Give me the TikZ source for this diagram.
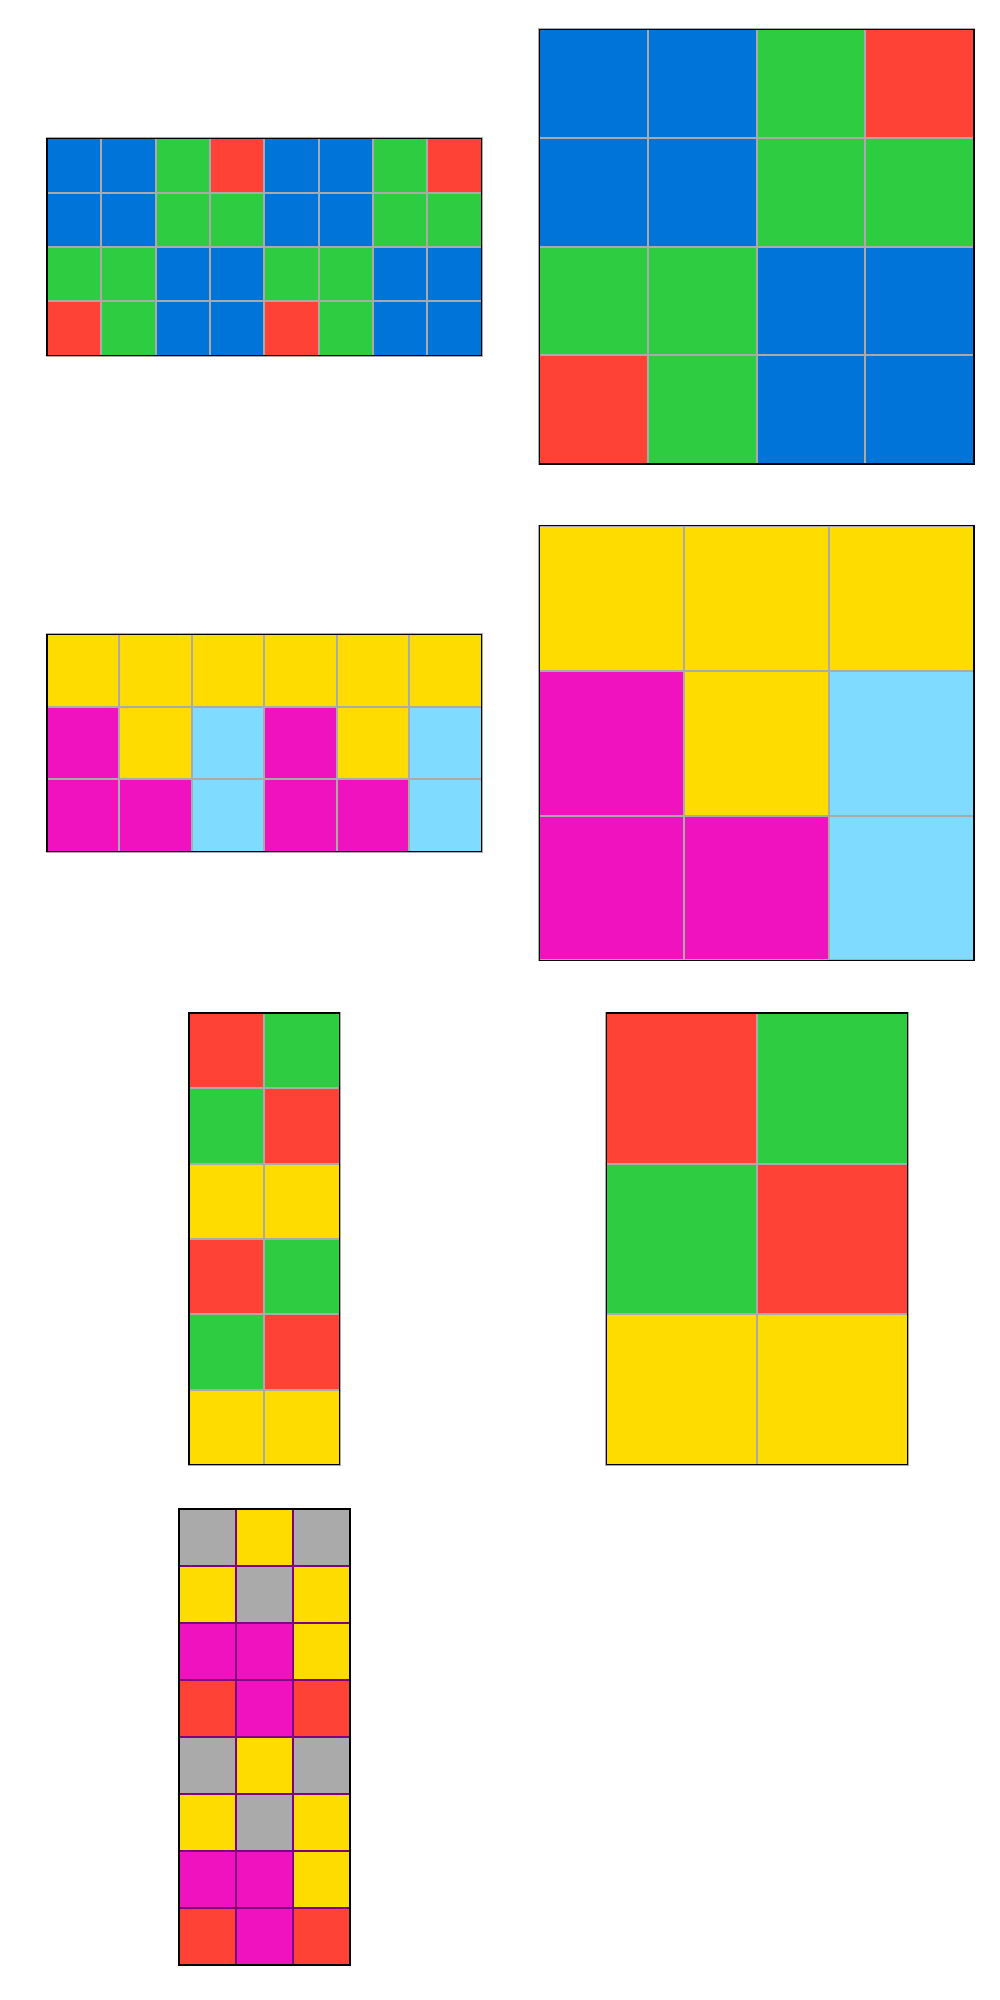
\documentclass[tikz,border=0pt]{standalone}
\usepackage{tikz}
% palette
\definecolor{arcB}{HTML}{0074D9}
\definecolor{arcG}{HTML}{2ECC40}
\definecolor{arcR}{HTML}{FF4136}
\definecolor{arcY}{HTML}{FFDC00}
\definecolor{arcM}{HTML}{F012BE}
\definecolor{arcC}{HTML}{7FDBFF}
\definecolor{arcA}{HTML}{AAAAAA}
\definecolor{arcline}{HTML}{AAAAAA}
\definecolor{arcpurple}{HTML}{800080}
\tikzset{
  cell/.style={line width=2pt},
  frame/.style={draw=black, line width=1.2pt},
}
% #1 x, #2 y, #3 cell size, #4 cols, #5 rows, #6 line colour, #7 rows of colours
\newcommand{\arcgrid}[7]{
  \foreach \cells [count=\r from 0] in {#7} {
    \foreach \c [count=\k from 0] in \cells {
      \filldraw[cell, fill=arc\c, draw=#6] ({#1+\k*#3},{#2+\r*#3}) rectangle +(#3,#3);
    }
  }
  \draw[frame] (#1,#2) rectangle +({#4*#3},{#5*#3});
}

\begin{document}
\begin{tikzpicture}[x=1pt, y=-1pt]
  \fill[white] (0,0) rectangle (1000,2000);
  \useasboundingbox (0,0) rectangle (1000,2000);
  % first pair
  \arcgrid{47}{138.3}{54.34}{8}{4}{arcline}{{B,B,G,R,B,B,G,R},{B,B,G,G,B,B,G,G},{G,G,B,B,G,G,B,B},{R,G,B,B,R,G,B,B}}
  \arcgrid{539.3}{29.3}{108.68}{4}{4}{arcline}{{B,B,G,R},{B,B,G,G},{G,G,B,B},{R,G,B,B}}
  % second pair
  \arcgrid{47}{634.2}{72.45}{6}{3}{arcline}{{Y,Y,Y,Y,Y,Y},{M,Y,C,M,Y,C},{M,M,C,M,M,C}}
  \arcgrid{539.3}{525.7}{144.9}{3}{3}{arcline}{{Y,Y,Y},{M,Y,C},{M,M,C}}
  % third pair
  \arcgrid{189}{1013}{75.3}{2}{6}{arcline}{{R,G},{G,R},{Y,Y},{R,G},{G,R},{Y,Y}}
  \arcgrid{606.3}{1013}{150.6}{2}{3}{arcline}{{R,G},{G,R},{Y,Y}}
  % last one
  \arcgrid{179}{1509}{57}{3}{8}{arcpurple}{{A,Y,A},{Y,A,Y},{M,M,Y},{R,M,R},{A,Y,A},{Y,A,Y},{M,M,Y},{R,M,R}}
\end{tikzpicture}
\end{document}
